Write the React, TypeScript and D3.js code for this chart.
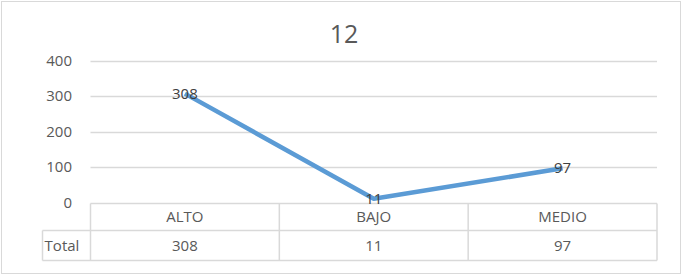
import React, { useRef, useEffect } from "react";
import * as d3 from "d3";

const categories = ["ALTO", "BAJO", "MEDIO"];
const totals = [308, 11, 97];
const yTicks = [0, 100, 200, 300, 400];
const seriesName = "Total";
const chartTitle = "12";

const App = () => {
  const svgRef = useRef<SVGSVGElement>(null);

  useEffect(() => {
    const w = 683;
    const h = 275;
    const font = "'Open Sans', 'DejaVu Sans', sans-serif";
    const gray = "#595959";
    const lineGray = "#d9d9d9";
    const svg = d3.select(svgRef.current);
    svg.selectAll("*").remove();

    // outer chart border
    svg.append("rect")
      .attr("x", 1.5).attr("y", 1.5)
      .attr("width", 679).attr("height", 272)
      .attr("fill", "white").attr("stroke", lineGray);

    svg.append("text")
      .attr("x", 344).attr("y", 43)
      .attr("text-anchor", "middle")
      .attr("font-family", font).attr("font-size", 25)
      .attr("fill", gray)
      .text(chartTitle);

    const xScale = d3.scaleBand()
      .domain(categories)
      .range([90.5, 657])
      .padding(0);
    const yScale = d3.scaleLinear().domain([0, 400]).range([202.7, 61]);

    // gridlines
    svg.append("g")
      .selectAll("line")
      .data(yTicks.filter(t => t > 0))
      .join("line")
      .attr("x1", 90.5).attr("x2", 657)
      .attr("y1", d => Math.round(yScale(d)) + 0.5)
      .attr("y2", d => Math.round(yScale(d)) + 0.5)
      .attr("stroke", lineGray).attr("stroke-width", 1.5);

    // y tick labels
    svg.append("g")
      .selectAll("text")
      .data(yTicks)
      .join("text")
      .attr("x", 72)
      .attr("y", d => yScale(d) + 5)
      .attr("text-anchor", "end")
      .attr("font-family", font).attr("font-size", 15)
      .attr("fill", gray)
      .text(d => d);

    // data table
    const yTop = 203.5, yMid = 230.5, yBot = 260.5, xLeft = 42.5;
    const table = svg.append("g")
      .attr("stroke", lineGray).attr("stroke-width", 1.5).attr("fill", "none");
    table.append("line").attr("x1", 90.5).attr("x2", 657).attr("y1", yTop).attr("y2", yTop);
    table.append("line").attr("x1", xLeft).attr("x2", 657).attr("y1", yMid).attr("y2", yMid);
    table.append("line").attr("x1", xLeft).attr("x2", 657).attr("y1", yBot).attr("y2", yBot);
    table.append("line").attr("x1", xLeft).attr("x2", xLeft).attr("y1", yMid).attr("y2", yBot);
    const edges = categories.map(c => xScale(c)!).concat([657]);
    table.selectAll("line.v")
      .data(edges)
      .join("line")
      .attr("class", "v")
      .attr("x1", d => d).attr("x2", d => d)
      .attr("y1", yTop).attr("y2", yBot);

    svg.append("g")
      .selectAll("text")
      .data(categories)
      .join("text")
      .attr("x", d => xScale(d)! + xScale.bandwidth() / 2)
      .attr("y", 222)
      .attr("text-anchor", "middle")
      .attr("font-family", font).attr("font-size", 15)
      .attr("fill", gray)
      .text(d => d);

    svg.append("g")
      .selectAll("text")
      .data(totals)
      .join("text")
      .attr("x", (d, i) => xScale(categories[i])! + xScale.bandwidth() / 2)
      .attr("y", 251)
      .attr("text-anchor", "middle")
      .attr("font-family", font).attr("font-size", 15)
      .attr("fill", gray)
      .text(d => d);

    svg.append("text")
      .attr("x", 62).attr("y", 251)
      .attr("text-anchor", "middle")
      .attr("font-family", font).attr("font-size", 15)
      .attr("fill", gray)
      .text(seriesName);

    // line
    const line = d3.line<number>()
      .x((d, i) => xScale(categories[i])! + xScale.bandwidth() / 2)
      .y(d => yScale(d));
    svg.append("path")
      .datum(totals)
      .attr("d", line)
      .attr("fill", "none")
      .attr("stroke", "#5b9bd5")
      .attr("stroke-width", 4.5)
      .attr("stroke-linejoin", "round");

    // data labels
    svg.append("g")
      .selectAll("text")
      .data(totals)
      .join("text")
      .attr("x", (d, i) => xScale(categories[i])! + xScale.bandwidth() / 2)
      .attr("y", d => yScale(d) + 5)
      .attr("text-anchor", "middle")
      .attr("font-family", font).attr("font-size", 15)
      .attr("fill", "#404040")
      .text(d => d);
  }, []);

  return (
    <svg
      ref={svgRef}
      width={683}
      height={275}
      style={{ position: "absolute", left: 0, top: 0, display: "block" }}
    />
  );
};

export default App;
